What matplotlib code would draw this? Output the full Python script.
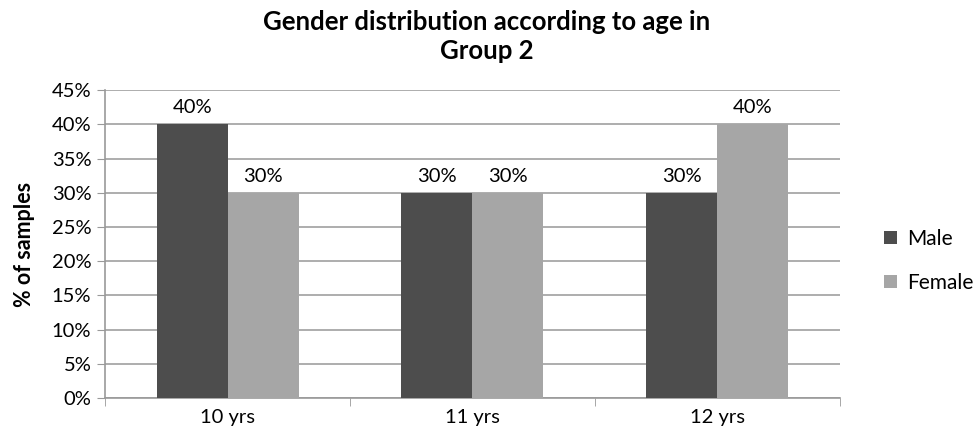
import matplotlib.pyplot as plt
import numpy as np

# Дані
ages = ['10 yrs', '11 yrs', '12 yrs']
male = [40, 30, 30]
female = [30, 30, 40]
yticks = [0, 5, 10, 15, 20, 25, 30, 35, 40, 45]

plt.rcParams['font.family'] = ['Lato', 'DejaVu Sans']

fig = plt.figure(figsize=(9.74, 4.42), dpi=100)
ax = fig.add_axes([0.108, 0.0995, 0.754, 0.6965])

x = np.arange(len(ages))
w = 0.29
b1 = ax.bar(x - w / 2, male, w, color='#4d4d4d', label='Male', zorder=3)
b2 = ax.bar(x + w / 2, female, w, color='#a6a6a6', label='Female', zorder=3)

# Підписи над стовпцями
for bars in (b1, b2):
    for r in bars:
        ax.text(r.get_x() + r.get_width() / 2, r.get_height() + 1.2,
                f'{r.get_height():.0f}%', ha='center', va='bottom', fontsize=14.5)

ax.set_xlim(-0.5, 2.5)
ax.set_ylim(0, 45)
ax.set_yticks(yticks)
ax.set_yticklabels([f'{t}%' for t in yticks], fontsize=14.5)
ax.set_xticks(x)
ax.set_xticklabels(ages, fontsize=14.5)
ax.set_xticks([-0.5, 0.5, 1.5, 2.5], minor=True)
ax.tick_params(axis='x', which='major', length=0, pad=8)
ax.tick_params(axis='x', which='minor', length=6, color='#999999')
ax.tick_params(axis='y', length=6, color='#999999', pad=4)

ax.yaxis.grid(True, color='#a0a0a0', linewidth=1.2, zorder=0)
for s in ['top', 'right']:
    ax.spines[s].set_visible(False)
ax.spines['left'].set_color('#999999')
ax.spines['bottom'].set_color('#999999')
ax.spines['left'].set_linewidth(1.2)
ax.spines['bottom'].set_linewidth(1.2)

ax.set_ylabel('% of samples', fontsize=15.5, fontweight='bold', labelpad=12)
fig.suptitle('Gender distribution according to age in\nGroup 2', fontsize=18.5,
             fontweight='bold', y=0.978, x=0.5, linespacing=1.25)

ax.legend(loc='center left', bbox_to_anchor=(1.035, 0.445), frameon=False,
          fontsize=15, handlelength=0.6, handleheight=0.6, labelspacing=1.15,
          handletextpad=0.5)

fig.savefig('out.png', dpi=100)
